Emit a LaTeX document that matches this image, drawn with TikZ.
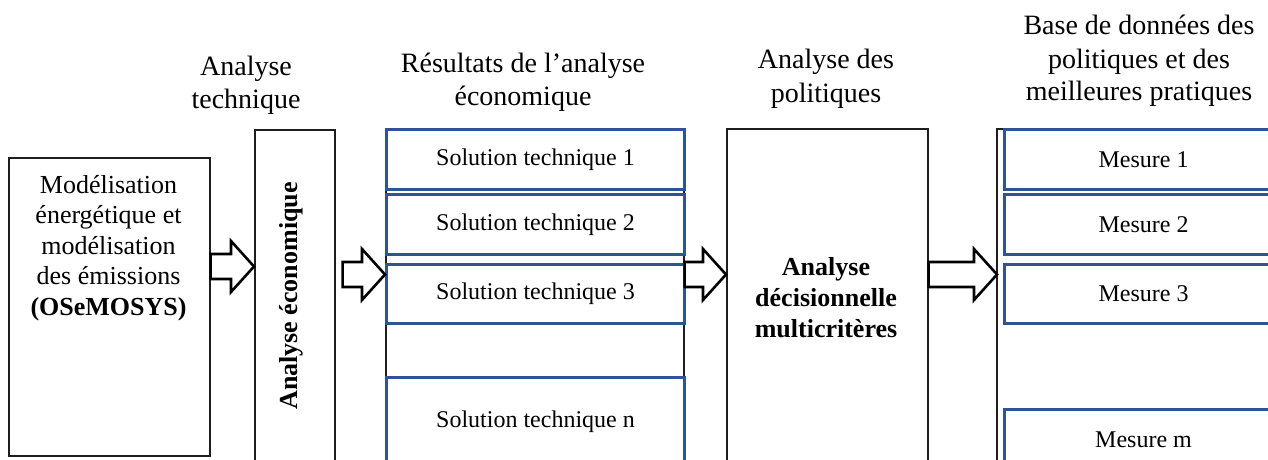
\documentclass[tikz,border=0pt]{standalone}
\usepackage{fontspec}
\setmainfont{Liberation Serif}
\usetikzlibrary{calc}
\definecolor{blueline}{RGB}{47,84,150}
\definecolor{boxline}{RGB}{30,30,30}
\newcommand{\ml}[1]{\begin{tabular}[t]{@{}c@{}}#1\end{tabular}}
\newcommand{\blockarrow}[2]{%
  \draw[barrow] let \p1=(#1), \p2=(#2) in
    (\x1,\y1+12.5pt) -- (\x2-23pt,\y1+12.5pt) -- (\x2-23pt,\y1+25.5pt) -- (\x2,\y1)
    -- (\x2-23pt,\y1-25.5pt) -- (\x2-23pt,\y1-12.5pt) -- (\x1,\y1-12.5pt) -- cycle;}
\begin{document}
\begin{tikzpicture}[x=1pt,y=-1pt,
  blk/.style={draw=boxline, line width=1.6pt, fill=white, inner sep=0pt, anchor=north west},
  bluebox/.style={draw=blueline, line width=3pt, fill=white, inner sep=0pt, anchor=north west,
    font=\fontsize{24}{28}\selectfont},
  head/.style={inner sep=0pt, anchor=base, font=\fontsize{28}{33}\selectfont},
  body/.style={inner sep=0pt, anchor=base, font=\fontsize{26}{30.5}\selectfont},
  barrow/.style={draw=black, line width=2.6pt, fill=white, line join=miter}
]
\clip (0,0) rectangle (1268,460);

% headers
\node[head] (h1) at (246,75) {\ml{Analyse\\technique}};
\node[head] (h2) at (523,72) {\ml{Résultats de l’analyse\\économique}};
\node[head] (h3) at (826,69) {\ml{Analyse des\\politiques}};
\node[head] (h4) at (1139,35) {\ml{Base de données des\\politiques et des\\meilleures pratiques}};

% left box
\node[blk, minimum width=201pt, minimum height=298pt] (model) at (8,157) {};
\node[body] (modeltxt) at (108.5,193) {\ml{Modélisation\\énergétique et\\modélisation\\des émissions\\\textbf{(OSeMOSYS)}}};

% analyse economique
\node[blk, minimum width=80pt, minimum height=400pt] (econ) at (254,129) {};
\node[rotate=90, inner sep=0pt, font=\bfseries\fontsize{26}{30}\selectfont] (econtxt) at (291,296) {Analyse économique};

% results column
\node[blk, minimum width=298pt, minimum height=400pt] (res) at (385,128) {};
\node[bluebox, minimum width=298pt, minimum height=60pt] (st1) at (385,128) {Solution technique 1};
\node[bluebox, minimum width=298pt, minimum height=60pt] (st2) at (385,193) {Solution technique 2};
\node[bluebox, minimum width=298pt, minimum height=59pt] (st3) at (385,263) {Solution technique 3};
\node[bluebox, minimum width=298pt, minimum height=88pt] (stn) at (385,376) {Solution technique n};

% policy analysis
\node[blk, minimum width=201pt, minimum height=400pt] (pol) at (726,128) {};
\node[inner sep=0pt, anchor=base, font=\bfseries\fontsize{26}{31}\selectfont] (poltxt) at (826,275)
  {\ml{Analyse\\décisionnelle\\multicritères}};

% database column
\node[blk, minimum width=400pt, minimum height=400pt] (db) at (996,128) {};
\node[bluebox, minimum width=278pt, minimum height=60pt] (m1) at (1003,128) {Mesure 1};
\node[bluebox, minimum width=278pt, minimum height=60pt] (m2) at (1003,193) {Mesure 2};
\node[bluebox, minimum width=278pt, minimum height=59pt] (m3) at (1003,263) {Mesure 3};
\node[bluebox, minimum width=278pt, minimum height=60pt] (mm) at (1003,408) {Mesure m};

% block arrows
\coordinate (ya) at (0,266.5);
\coordinate (yb) at (0,274.5);
\coordinate (a1s) at (model.east |- ya);
\coordinate (a1e) at (econ.west |- ya);
\coordinate (a2s) at ($(econ.east |- yb)+(7,0)$);
\coordinate (a2e) at (res.west |- yb);
\coordinate (a3s) at (res.east |- yb);
\coordinate (a3e) at (pol.west |- yb);
\coordinate (a4s) at (pol.east |- yb);
\coordinate (a4e) at ($(db.west |- yb)+(1,0)$);
\blockarrow{a1s}{a1e}
\blockarrow{a2s}{a2e}
\blockarrow{a3s}{a3e}
\blockarrow{a4s}{a4e}
\end{tikzpicture}
\end{document}
